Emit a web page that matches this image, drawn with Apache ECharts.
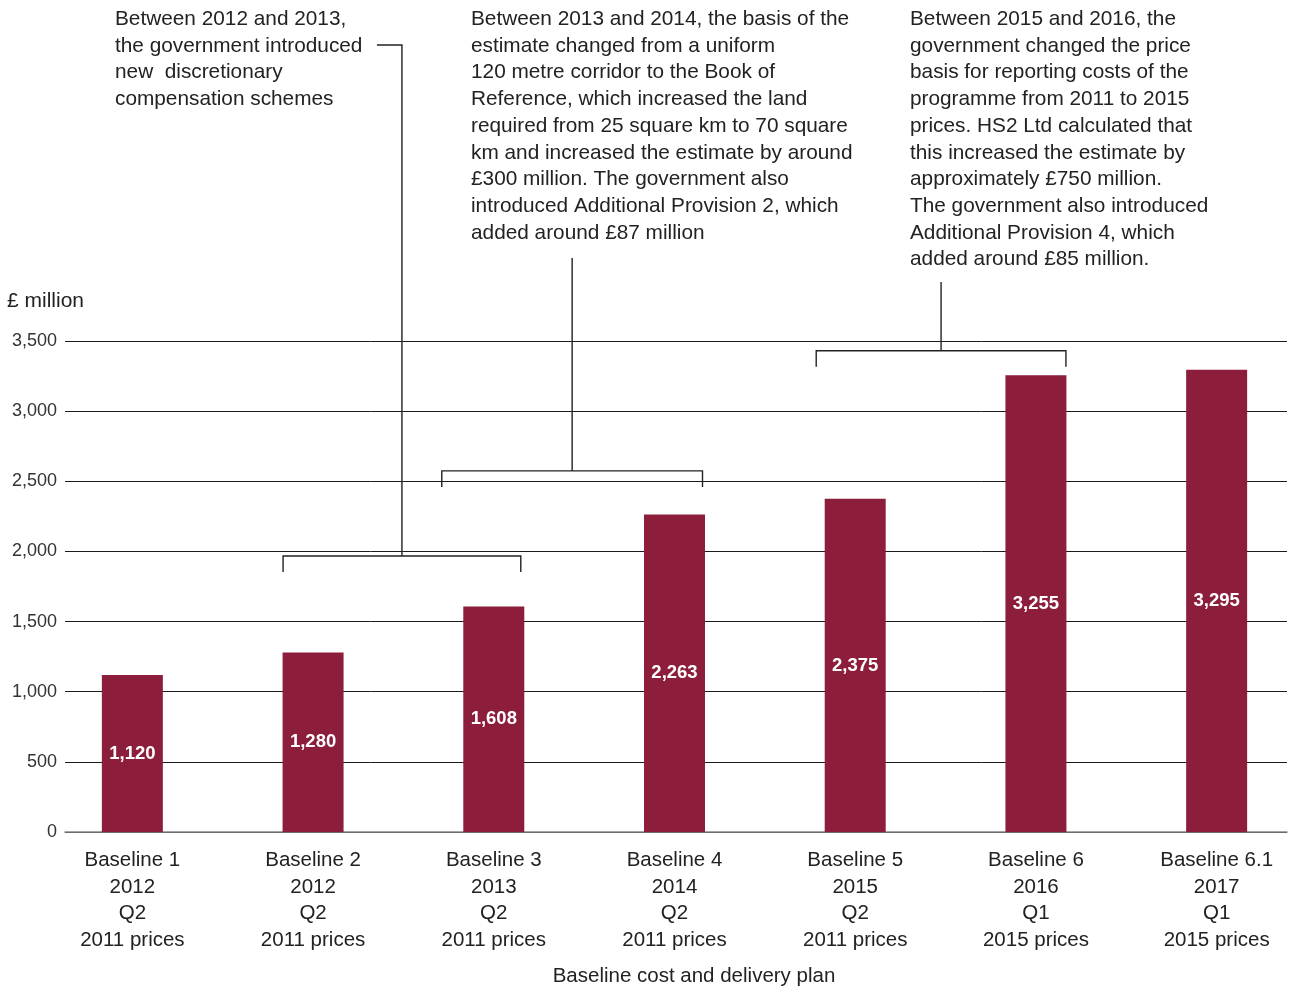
<!DOCTYPE html>
<html>
<head>
<meta charset="utf-8">
<script src="https://cdn.jsdelivr.net/npm/echarts@6/dist/echarts.min.js"></script>
<style>
  html, body { margin: 0; padding: 0; background: #fff; }
  #main { width: 1290px; height: 990px; }
</style>
</head>
<body>
<div id="main"></div>
<script>
var categories = [
  'Baseline 1\n2012\nQ2\n2011 prices',
  'Baseline 2\n2012\nQ2\n2011 prices',
  'Baseline 3\n2013\nQ2\n2011 prices',
  'Baseline 4\n2014\nQ2\n2011 prices',
  'Baseline 5\n2015\nQ2\n2011 prices',
  'Baseline 6\n2016\nQ1\n2015 prices',
  'Baseline 6.1\n2017\nQ1\n2015 prices'
];
var costs = [1120, 1280, 1608, 2263, 2375, 3255, 3295];

var note1 = 'Between 2012 and 2013,\nthe government introduced\nnew  discretionary\ncompensation schemes';
var note2 = 'Between 2013 and 2014, the basis of the\nestimate changed from a uniform\n120 metre corridor to the Book of\nReference, which increased the land\nrequired from 25 square km to 70 square\nkm and increased the estimate by around\n£300 million. The government also\nintroduced Additional Provision 2, which\nadded around £87 million';
var note3 = 'Between 2015 and 2016, the\ngovernment changed the price\nbasis for reporting costs of the\nprogramme from 2011 to 2015\nprices. HS2 Ltd calculated that\nthis increased the estimate by\napproximately £750 million.\nThe government also introduced\nAdditional Provision 4, which\nadded around £85 million.';

var FONT = '"Helvetica Neue", "Liberation Sans", Arial, sans-serif';
var TXT = '#222';

function fmt(v) {
  return String(v).replace(/\B(?=(\d{3})+(?!\d))/g, ',');
}

var myChart = echarts.init(document.getElementById('main'));

var option = {
  animation: false,
  backgroundColor: '#fff',
  grid: [
    { left: 65, width: 1222, top: 341, bottom: 158, outerBoundsMode: 'none' },
    { left: 42, width: 1265, top: 341, bottom: 158, outerBoundsMode: 'none' }
  ],
  xAxis: [
    {
      gridIndex: 0, type: 'category', data: categories,
      axisLine: { lineStyle: { color: '#888', width: 1.5 } },
      axisTick: { show: false }, axisLabel: { show: false }
    },
    {
      gridIndex: 1, type: 'category', data: categories,
      axisLine: { show: false }, axisTick: { show: false },
      axisLabel: {
        interval: 0, margin: 15, color: TXT, fontFamily: FONT,
        fontSize: 20.5, lineHeight: 26.7
      }
    }
  ],
  yAxis: [
    {
      gridIndex: 0, type: 'value', min: 0, max: 3500, interval: 500,
      axisLine: { show: false }, axisTick: { show: false },
      axisLabel: { margin: 8, color: '#333', fontFamily: FONT, fontSize: 18, formatter: fmt },
      splitLine: { lineStyle: { color: '#1a1a1a', width: 1 } }
    },
    {
      gridIndex: 1, type: 'value', min: 0, max: 3500, interval: 500, show: false,
      splitLine: { show: false }
    }
  ],
  series: [{
    type: 'bar',
    xAxisIndex: 1, yAxisIndex: 1,
    data: costs,
    barWidth: 61,
    itemStyle: { color: '#8c1e3c' },
    label: {
      show: true, position: 'inside', color: '#fff',
      fontFamily: FONT, fontSize: 18.5, fontWeight: 'bold',
      formatter: function (p) { return fmt(p.value); }
    }
  }]
};

myChart.setOption(option);

// brackets: [fromCat, fromOffset, toCat, toOffset, level value, stem top y]
var brackets = [
  [1, -30, 2, 27, 1967, 45],
  [2, -52, 3, 28, 2574, 258],
  [4, -39, 5, 30, 3430, 282]
];

var lineStyle = { stroke: '#222', lineWidth: 1.4, fill: null };
var graphics = [];
brackets.forEach(function (b, i) {
  var p1 = myChart.convertToPixel({ xAxisIndex: 1, yAxisIndex: 1 }, [b[0], b[4]]);
  var p2 = myChart.convertToPixel({ xAxisIndex: 1, yAxisIndex: 1 }, [b[2], b[4]]);
  var L = p1[0] + b[1], R = p2[0] + b[3], y = p1[1];
  var mid = (L + R) / 2;
  graphics.push({
    type: 'polyline', silent: true, z: 10,
    shape: { points: [[L, y + 16], [L, y], [R, y], [R, y + 16]] },
    style: lineStyle
  });
  var pts = [[mid, y], [mid, b[5]]];
  if (i === 0) pts.push([mid - 25, b[5]]);
  graphics.push({
    type: 'polyline', silent: true, z: 10,
    shape: { points: pts },
    style: lineStyle
  });
});

function note(text, x) {
  return {
    type: 'text', left: x, top: 6, silent: true, z: 20,
    style: {
      text: text, fill: TXT, font: '20.8px ' + FONT, lineHeight: 26.7
    }
  };
}
graphics.push(note(note1, 115));
graphics.push(note(note2, 471));
graphics.push(note(note3, 910));
graphics.push({
  type: 'text', left: 7, top: 291, silent: true,
  style: { text: '£ million', fill: TXT, font: '21px ' + FONT }
});
graphics.push({
  type: 'text', x: 694, y: 976, silent: true,
  style: {
    text: 'Baseline cost and delivery plan', fill: TXT, font: '20.5px ' + FONT,
    textAlign: 'center', textVerticalAlign: 'middle'
  }
});

myChart.setOption({ graphic: graphics });
</script>
</body>
</html>
